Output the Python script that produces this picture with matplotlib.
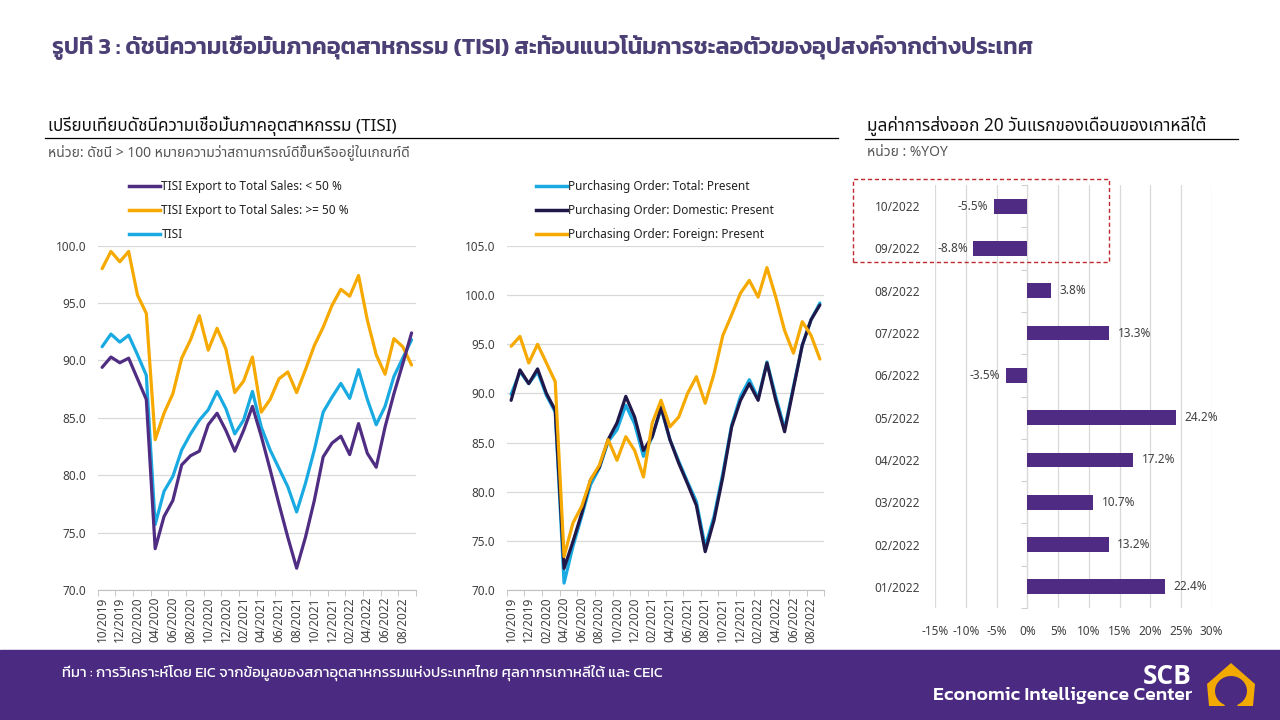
import numpy as np
import matplotlib
matplotlib.use("Agg")
import matplotlib.pyplot as plt
from matplotlib import font_manager
from matplotlib.patches import Rectangle, PathPatch
from matplotlib.path import Path
from matplotlib.lines import Line2D

# pick installed fonts
installed = {f.name for f in font_manager.fontManager.ttflist}
def pick(prefs):
    for p in prefs:
        if p in installed:
            return p
    return "DejaVu Sans"

thaiFont = pick(["Noto Sans Thai", "Sarabun", "Anuphan", "Bai Jamjuree"])
titleFont = pick(["Kanit", "Prompt", "Anuphan", thaiFont])
bodyFam = ["Noto Sans", thaiFont, "DejaVu Sans"]
titleFam = [titleFont, "DejaVu Sans"]
plt.rcParams["font.family"] = bodyFam

# ---- data ----
months = ["10/2019", "11/2019", "12/2019", "01/2020", "02/2020", "03/2020", "04/2020", "05/2020",
          "06/2020", "07/2020", "08/2020", "09/2020", "10/2020", "11/2020", "12/2020", "01/2021",
          "02/2021", "03/2021", "04/2021", "05/2021", "06/2021", "07/2021", "08/2021", "09/2021",
          "10/2021", "11/2021", "12/2021", "01/2022", "02/2022", "03/2022", "04/2022", "05/2022",
          "06/2022", "07/2022", "08/2022", "09/2022"]

tisiLow = [89.4, 90.3, 89.8, 90.2, 88.4, 86.6, 73.6, 76.4, 77.8, 80.9, 81.7, 82.1,
           84.4, 85.4, 83.9, 82.1, 83.9, 86.0, 83.4, 80.5, 77.5, 74.6, 71.9, 74.6,
           77.8, 81.6, 82.8, 83.4, 81.8, 84.5, 81.9, 80.7, 84.2, 87.1, 89.7, 92.4]
tisiHigh = [98.0, 99.5, 98.6, 99.5, 95.7, 94.1, 83.1, 85.4, 87.1, 90.2, 91.8, 93.9,
            90.9, 92.8, 91.0, 87.2, 88.2, 90.3, 85.5, 86.6, 88.4, 89.0, 87.2, 89.2,
            91.3, 92.9, 94.8, 96.2, 95.6, 97.4, 93.5, 90.5, 88.8, 91.9, 91.2, 89.6]
tisiAll = [91.2, 92.3, 91.6, 92.2, 90.5, 88.7, 75.7, 78.6, 79.9, 82.2, 83.6, 84.8,
           85.7, 87.3, 85.8, 83.6, 84.8, 87.3, 84.2, 82.2, 80.6, 79.0, 76.8, 79.3,
           82.2, 85.5, 86.8, 88.0, 86.7, 89.2, 86.6, 84.4, 86.0, 88.6, 90.2, 91.8]

poTotal = [89.9, 92.2, 91.0, 92.2, 89.8, 88.1, 70.7, 74.4, 77.5, 80.7, 82.4, 85.1,
           86.3, 88.8, 86.9, 83.6, 85.6, 88.5, 85.3, 83.1, 81.0, 79.0, 74.4, 77.5,
           81.9, 86.8, 89.7, 91.4, 89.5, 93.2, 89.7, 86.4, 90.7, 94.9, 97.5, 99.2]
poDomestic = [89.3, 92.4, 91.0, 92.5, 90.0, 88.3, 72.2, 74.9, 77.8, 81.2, 82.5, 85.3,
              87.0, 89.7, 87.6, 84.2, 85.6, 88.6, 85.3, 82.9, 80.8, 78.6, 73.9, 77.1,
              81.5, 86.6, 89.3, 91.0, 89.3, 93.1, 89.3, 86.1, 90.5, 94.9, 97.5, 99.0]
poForeign = [94.8, 95.8, 93.1, 95.0, 93.1, 91.2, 73.4, 76.8, 78.5, 81.2, 82.7, 85.3,
             83.2, 85.6, 84.2, 81.5, 87.0, 89.3, 86.6, 87.6, 90.0, 91.7, 89.0, 92.0,
             95.9, 98.0, 100.2, 101.5, 99.8, 102.8, 99.8, 96.4, 94.1, 97.3, 95.9, 93.5]

barMonths = ["01/2022", "02/2022", "03/2022", "04/2022", "05/2022",
             "06/2022", "07/2022", "08/2022", "09/2022", "10/2022"]
barValues = [22.4, 13.2, 10.7, 17.2, 24.2, -3.5, 13.3, 3.8, -8.8, -5.5]

PURPLE = "#4F2D83"
ORANGE = "#F6A900"
BLUE = "#1AAAE2"
NAVY = "#21184A"
GRID = "#D9D9D9"
TXT = "#404040"

W, H = 1280, 720
fig = plt.figure(figsize=(12.8, 7.2), dpi=100)

def fx(x):
    return x / W

def fy(y):
    return 1 - y / H

def lineAxes(rect, series, colors, ylo, yhi):
    ax = fig.add_axes(rect)
    x = np.arange(len(months))
    for s, c in zip(series, colors):
        ax.plot(x, s, color=c, lw=2.3, solid_joinstyle="round", solid_capstyle="round")
    ax.set_xlim(-0.5, len(months) - 0.5)
    ax.set_ylim(ylo, yhi)
    ax.set_yticks(np.arange(ylo, yhi + 0.1, 5))
    ax.set_yticklabels(["%.1f" % v for v in np.arange(ylo, yhi + 0.1, 5)])
    ax.set_xticks(x[::2])
    ax.set_xticklabels(months[::2], rotation=90)
    ax.set_xticks(np.arange(-0.5, len(months), 2), minor=True)
    ax.tick_params(axis="x", which="major", length=0, pad=5, labelsize=8.5, labelcolor=TXT)
    ax.tick_params(axis="x", which="minor", length=4, color="#BFBFBF", direction="out")
    ax.tick_params(axis="y", length=0, pad=8, labelsize=8.5, labelcolor=TXT)
    ax.grid(axis="y", color=GRID, lw=0.9)
    ax.set_axisbelow(True)
    for sp in ["top", "right", "left"]:
        ax.spines[sp].set_visible(False)
    ax.spines["bottom"].set_color("#BFBFBF")
    return ax

# left chart: TISI
axL = lineAxes([fx(97.7), fy(590), fx(416 - 97.7), (590 - 245.7) / H],
               [tisiAll, tisiHigh, tisiLow], [BLUE, ORANGE, PURPLE], 70, 100)
# right chart: purchasing orders
axR = lineAxes([fx(506.7), fy(590), fx(824.3 - 506.7), (590 - 246) / H],
               [poTotal, poDomestic, poForeign], [BLUE, NAVY, ORANGE], 70, 105)

def legend(labels, colors, x, y):
    hs = [Line2D([], [], color=c, lw=2.5) for c in colors]
    fig.legend(hs, labels, loc="upper left", bbox_to_anchor=(fx(x), fy(y)),
               frameon=False, fontsize=8.5, handlelength=2.6, handletextpad=0.15,
               labelspacing=0.92, borderpad=0, borderaxespad=0, labelcolor="#222222")

legend(["TISI Export to Total Sales: < 50 %", "TISI Export to Total Sales: >= 50 %", "TISI"],
       [PURPLE, ORANGE, BLUE], 129, 180)
legend(["Purchasing Order: Total: Present", "Purchasing Order: Domestic: Present",
        "Purchasing Order: Foreign: Present"], [BLUE, NAVY, ORANGE], 536, 180)

# bar chart
axB = fig.add_axes([fx(935.3), fy(608), fx(1211.7 - 935.3), (608 - 185) / H])
yb = np.arange(len(barMonths))
axB.barh(yb, barValues, height=0.35, color="#4F2B83")
axB.set_xlim(-15, 30)
axB.set_ylim(-0.5, len(barMonths) - 0.5)
axB.set_xticks(np.arange(-15, 31, 5))
axB.set_xticklabels(["%d%%" % v for v in np.arange(-15, 31, 5)])
axB.set_yticks(yb)
axB.set_yticklabels(barMonths)
axB.tick_params(axis="both", length=0, labelsize=8.5, labelcolor=TXT)
axB.tick_params(axis="x", pad=12)
axB.tick_params(axis="y", pad=11)
axB.grid(axis="x", color=GRID, lw=0.9)
axB.set_axisbelow(True)
for sp in axB.spines.values():
    sp.set_visible(False)
sec = axB.secondary_yaxis(15 / 45)
sec.set_yticks(np.arange(-0.5, len(barMonths), 1))
sec.set_yticklabels([])
sec.tick_params(length=4, color="#D0D0D0")
sec.spines["left"].set_color("#D0D0D0")
for sp in ["right", "top", "bottom"]:
    if sp in sec.spines:
        sec.spines[sp].set_visible(False)
for yi, v in zip(yb, barValues):
    if v >= 0:
        axB.annotate("%.1f%%" % v, (v, yi), xytext=(6, 0), textcoords="offset points",
                     ha="left", va="center", fontsize=8.5, color=TXT)
    else:
        axB.annotate("%.1f%%" % v, (v, yi), xytext=(-4, 0), textcoords="offset points",
                     ha="right", va="center", fontsize=8.5, color=TXT)

# red dashed highlight around latest two months
fig.add_artist(Rectangle((fx(852.5), fy(262)), fx(1109 - 852.5), (262 - 179.5) / H,
                         transform=fig.transFigure, fill=False, ec="#C0282D", lw=1.0,
                         ls=(0, (3, 2))))

# titles and headers
fig.text(fx(52), fy(47), "รูปที่ 3 : ดัชนีความเชื่อมั่นภาคอุตสาหกรรม (TISI) สะท้อนแนวโน้มการชะลอตัวของอุปสงค์จากต่างประเทศ",
         family=titleFam, fontsize=16.8, fontweight="semibold", color="#4B3F75", va="center")
fig.text(fx(48), fy(126), "เปรียบเทียบดัชนีความเชื่อมั่นภาคอุตสาหกรรม (TISI)",
         fontsize=12.3, color="#111111", va="center")
fig.add_artist(Line2D([fx(45), fx(838)], [fy(137.5), fy(137.5)], color="black", lw=0.9))
fig.text(fx(48), fy(152), "หน่วย: ดัชนี > 100 หมายความว่าสถานการณ์ดีขึ้นหรืออยู่ในเกณฑ์ดี",
         fontsize=10, color="#555555", va="center")
fig.text(fx(867), fy(126), "มูลค่าการส่งออก 20 วันแรกของเดือนของเกาหลีใต้",
         fontsize=12.4, color="#111111", va="center")
fig.add_artist(Line2D([fx(865), fx(1238)], [fy(139), fy(139)], color="black", lw=0.9))
fig.text(fx(867), fy(153), "หน่วย : %YOY", fontsize=10, color="#555555", va="center")

# footer band
fig.add_artist(Rectangle((0, 0), 1, (720 - 650) / H, transform=fig.transFigure,
                         color="#4B2A82", zorder=0))
fig.text(fx(62), fy(673), "ที่มา : การวิเคราะห์โดย EIC จากข้อมูลของสภาอุตสาหกรรมแห่งประเทศไทย ศุลกากรเกาหลีใต้ และ CEIC",
         family=titleFam, fontsize=10.7, color="white", va="center")
fig.text(fx(1192), fy(676), "SCB", family=["Open Sans", "DejaVu Sans"], fontsize=19,
         fontweight="bold", color="white", ha="right", va="center")
fig.text(fx(1192), fy(696), "Economic Intelligence Center", family=titleFam, fontsize=14,
         fontweight="medium", color="white", ha="right", va="center")

# logo mark: gold arch outline, open at the bottom
cx, cy = 1231.0, 691.0
outer = [(1237, 706), (1253, 706), (1255, 684), (1231, 663), (1207, 684), (1209, 706),
         (1225, 706)]
ang = np.linspace(245, -65, 40)
inner = [(cx + 16 * np.cos(np.radians(a)), cy - 15 * np.sin(np.radians(a))) for a in ang]
pts = outer + inner
verts = [(fx(px), fy(py)) for px, py in pts] + [(0, 0)]
codes = [Path.MOVETO] + [Path.LINETO] * (len(pts) - 1) + [Path.CLOSEPOLY]
fig.add_artist(PathPatch(Path(verts, codes), transform=fig.transFigure, fc="#F2A900",
                         ec="none"))

fig.savefig("out.png", dpi=100)
